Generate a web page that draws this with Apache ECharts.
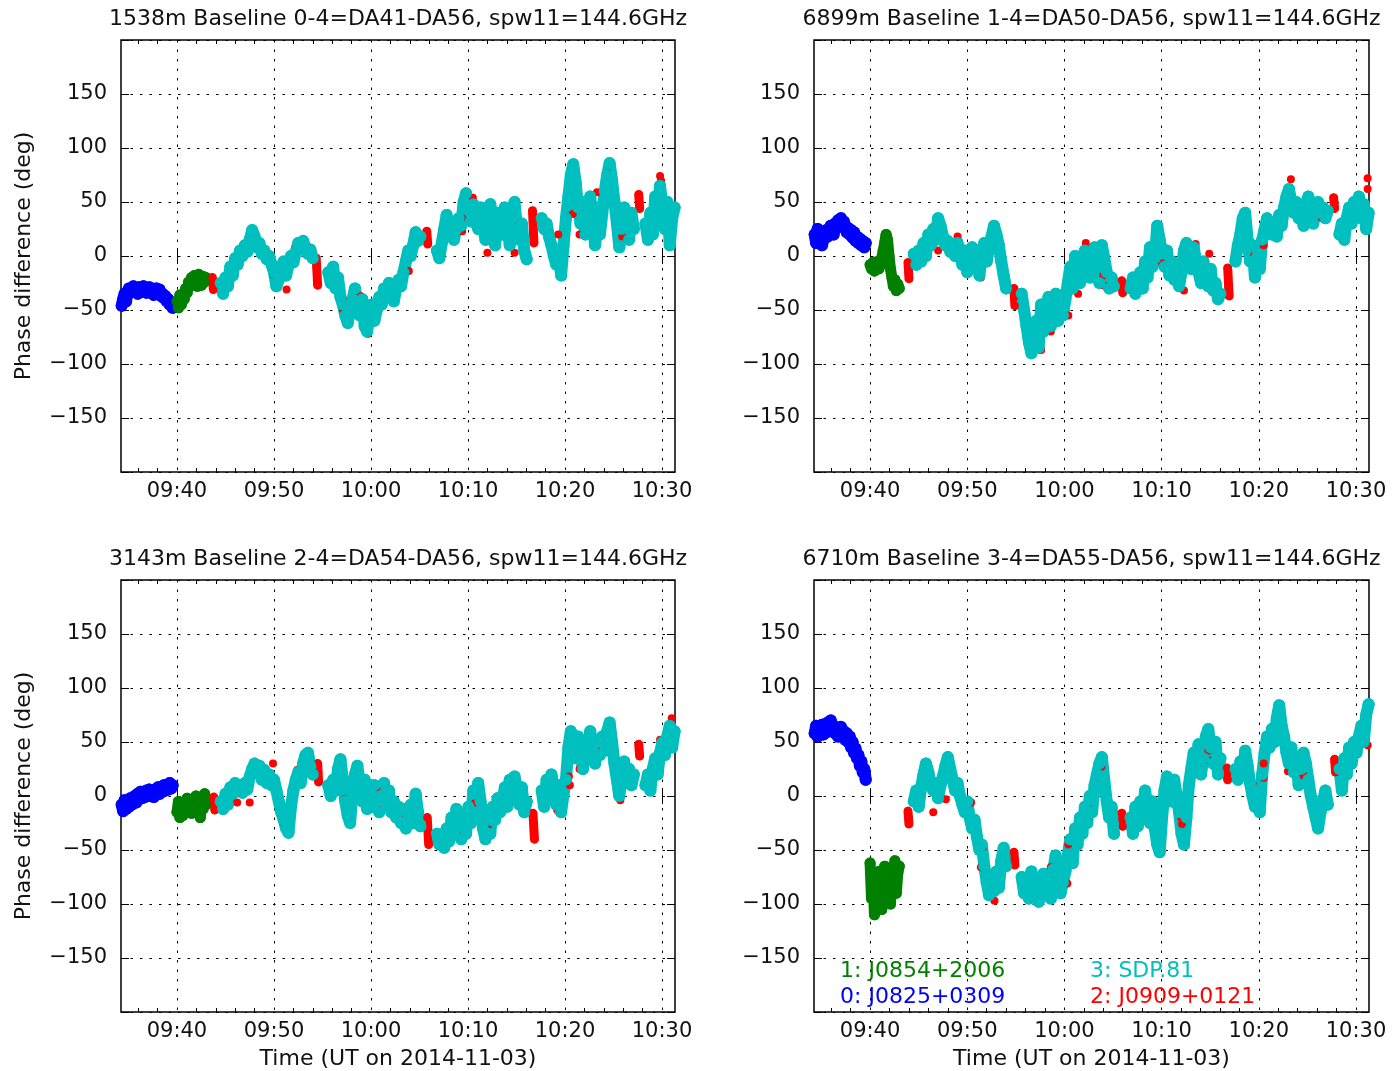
<!DOCTYPE html>
<html><head><meta charset="utf-8">
<script src="https://cdn.jsdelivr.net/npm/echarts@6/dist/echarts.min.js"></script>
<style>html,body{margin:0;padding:0;background:#fff}#c{width:1393px;height:1071px}</style>
</head><body><div id="c"></div>
<script>
// ---------- axis ticks (minutes after 09:00 UT) ----------
const X_MIN = 34.23, X_MAX = 91.34;
const X_MAJOR = [40, 50, 60, 70, 80, 90];
const X_MINOR = [36, 38, 42, 44, 46, 48, 52, 54, 56, 58, 62, 64, 66, 68, 72, 74, 76, 78, 82, 84, 86, 88];
const Y_MIN = -200, Y_MAX = 200, Y_STEP = 50;

// ---------- sampling of the scans ----------
const BLUE_START = 34.3, GREEN_START = 40.0, CAL_STEP = 0.15;
const CYAN_STARTS = [44.5, 55.6, 66.8, 77.6, 88.3];
const CYAN_STEP = 0.25;

// ---------- titles / legend ----------
const TITLES = [
  '1538m Baseline 0-4=DA41-DA56, spw11=144.6GHz',
  '6899m Baseline 1-4=DA50-DA56, spw11=144.6GHz',
  '3143m Baseline 2-4=DA54-DA56, spw11=144.6GHz',
  '6710m Baseline 3-4=DA55-DA56, spw11=144.6GHz'
];
const LEGEND = ['1: J0854+2006', '0: J0825+0309', '3: SDP.81', '2: J0909+0121'];

// ---------- panel 1 ----------
const p1Blue = [-46,-40,-35,-42,-33,-30,-34,-31,-28,-32,-30,-35,-29,-31,-33,-28,-30,-34,-31,-29,-33,-30,-36,-32,-30,-34,-31,-37,-35,-39,-37,-42,-40,-45,-43,-48];
const p1Green = [-42,-48,-36,-45,-38,-40,-30,-34,-24,-28,-20,-26,-18,-24,-28,-17,-22,-27,-19,-24,-20];
const p1RedScans = [
  [[43.65,-20],[43.7,-25],[43.75,-31]],
  [[54.35,-2],[54.4,-10],[54.45,-18],[54.5,-27]],
  [[65.75,23],[65.8,16],[65.85,11]],
  [[76.65,42],[76.7,32],[76.75,22],[76.8,12]],
  [[87.6,57],[87.65,50],[87.7,44]]
];
const p1RedDots = [[47.3,3],[49.9,-17],[51.3,-31],[52.2,6],[57.1,-40],[57.1,-50],[58.4,-30],[58.9,-37],[59.7,-72],[61.2,-39],[63.5,-5],[63.9,-14],
  [69.4,35],[69.4,23],[70.5,54],[72.0,14],[72.0,3],[74.8,30],[74.8,3],[79.3,20],[80.8,39],[81.5,20],[83.3,59],[84.4,77],[85.9,18],[89.8,74],[89.9,70]];
const p1Cyan = [
  [-25,-35,-20,-28,-10,-18,-2,-8,5,0,10,4,15,24,18,8,12,2,5,-3,0,-8,-15,-28,-22,-10,-5,-18,-8,0,-6,4,12,6,14,8,2,6,-2],
  [-15,-25,-10,-30,-20,-38,-45,-55,-62,-48,-40,-30,-45,-55,-40,-65,-70,-55,-45,-60,-50,-38,-45,-30,-38,-25,-35,-42,-30,-22,-28,-15,-5,5,0,10,22,14,18],
  [5,-2,12,25,38,20,30,15,25,35,28,50,58,45,32,48,38,25,45,30,15,35,48,28,10,40,30,20,45,30,10,35,50,25,15,30,5,-3],
  [35,25,30,18,10,0,-8,5,-18,10,35,55,75,85,68,45,30,50,20,40,55,35,10,30,20,40,60,75,86,70,50,30,8,25,45,30,15,40,25],
  [30,15,40,20,55,35,65,45,25,50,10,35,45]
];

// ---------- panel 2 ----------
const p2Blue = [20,12,25,18,22,10,15,20,24,18,22,28,25,20,30,26,33,28,35,30,32,27,22,26,20,24,17,22,14,18,12,16,10,14,8,12];
const p2Green = [-8,-12,-6,-14,-10,-5,-12,-8,-2,5,12,20,15,0,-12,-20,-28,-22,-32,-26,-30];
const p2RedScans = [
  [[43.9,-6],[43.95,-13],[44.0,-21]],
  [[54.8,-30],[54.85,-38],[54.9,-46]],
  [[65.9,-23],[65.95,-29],[66.0,-34]],
  [[76.8,-11],[76.85,-20],[76.9,-29],[76.95,-37]],
  [[87.7,54],[87.75,49],[87.8,44]]
];
const p2RedDots = [[47.0,5],[49.0,18],[49.1,14],[51.4,-20],[57.6,-87],[58.6,-70],[60.4,-55],[61.4,-35],[62.2,12],[64.0,-18],[64.0,-27],
  [69.9,-5],[72.3,-32],[73.5,11],[74.9,2],[74.9,-11],[79.5,0],[80.5,10],[83.3,71],[84.6,29],[86.5,35],[90.2,56],[91.2,72],[91.2,62]];
const p2Cyan = [
  [2,-8,5,-5,12,0,20,10,25,15,35,28,18,10,14,4,10,0,12,2,-8,5,-15,-5,8,-10,5,-18,2,12,-5,8,18,28,20,10,-5,-18,-30],
  [-35,-50,-65,-80,-90,-75,-60,-85,-45,-70,-55,-38,-65,-50,-35,-60,-45,-55,-40,-25,-10,-30,0,-15,-25,-8,5,-12,-20,-5,8,-10,-25,10,-2,-15,-30,-20,-28],
  [-30,-20,-35,-25,-15,-30,-5,-20,8,-10,-2,28,15,2,-10,5,-18,-5,-22,-12,-28,-15,5,12,0,-12,8,-5,-15,-25,-5,-18,-28,-12,-32,-25,-40,-35],
  [-5,10,20,35,40,15,-5,10,-20,0,-12,15,25,35,28,20,30,18,38,28,45,55,62,50,40,50,35,45,28,48,55,42,30,45,50,40,45,35,42],
  [20,30,15,35,45,30,50,40,55,35,48,25,40]
];

// ---------- panel 3 ----------
const p3Blue = [-8,-14,-4,-12,-6,-10,-2,-8,-5,0,-6,2,-3,4,-2,3,-1,5,0,6,2,4,-1,6,3,8,2,7,4,10,5,9,6,12,7,10];
const p3Green = [-15,-5,-20,-10,-18,-8,-14,-2,-12,-6,-16,-4,-10,0,-14,-8,-20,-5,-12,2,-8];
const p3RedScans = [
  [[43.8,-1],[43.85,-7],[43.9,-13]],
  [[54.5,30],[54.55,22],[54.6,13]],
  [[65.8,-20],[65.85,-29],[65.9,-37],[65.95,-45]],
  [[76.7,-16],[76.75,-24],[76.8,-32],[76.85,-40]],
  [[87.6,48],[87.65,42],[87.7,37]]
];
const p3RedDots = [[46.2,-6],[47.5,-6],[49.9,30],[49.9,15],[51.1,-27],[52.4,24],[57.3,-3],[58.6,26],[60.6,8],[61.2,-10],[63.3,-22],
  [69.5,-34],[70.7,-7],[72.1,-31],[73.3,-2],[74.6,18],[79.2,-13],[80.4,18],[80.5,10],[81.5,25],[83.3,43],[85.7,-4],[89.8,52],[91.0,72]];
const p3Cyan = [
  [-5,-12,2,-8,8,2,12,5,10,3,12,6,18,25,30,22,28,15,24,12,20,10,15,5,-5,-15,-22,-30,-34,-10,5,15,22,12,30,38,40,28,20],
  [10,0,15,5,25,34,15,-5,-18,-25,5,20,28,10,-5,15,-12,5,-10,10,-5,-15,0,12,-8,5,-15,-5,-20,-10,-25,-12,-30,-20,-8,-25,2,-15,-28],
  [-35,-45,-38,-48,-30,-42,-20,-35,-12,-28,-40,-22,-35,-10,-25,5,-15,12,-5,-30,-40,-20,-35,-10,-22,-2,-15,-5,8,-10,15,2,18,5,-8,8,-15,-5],
  [5,-10,15,0,20,8,-8,10,-15,2,15,45,60,50,35,55,40,25,48,35,60,45,30,50,38,55,42,60,68,50,30,15,0,20,32,12,25,10,20],
  [10,20,5,25,35,20,40,50,38,55,65,45,60]
];

// ---------- panel 4 ----------
const p4Blue = [58,65,55,62,60,66,57,63,59,68,62,70,60,65,58,62,55,60,64,56,60,52,58,50,55,45,50,40,44,35,38,28,32,22,25,15];
const p4Green = [-62,-95,-75,-110,-85,-100,-70,-90,-105,-80,-65,-95,-75,-88,-100,-70,-82,-60,-90,-72,-65];
const p4RedScans = [
  [[43.9,-14],[43.95,-20],[44.0,-26]],
  [[54.8,-52],[54.85,-58],[54.9,-64]],
  [[65.9,-16],[65.95,-22],[66.0,-28]],
  [[76.7,26],[76.75,20],[76.8,15]],
  [[87.8,34],[87.85,28],[87.9,22]]
];
const p4RedDots = [[46.5,-15],[47.8,-3],[49.0,12],[50.4,-6],[51.6,-48],[51.4,-66],[52.8,-97],[58.6,-66],[60.3,-81],[60.4,-45],[62.4,-11],[62.5,-24],
  [63.8,27],[63.7,15],[72.0,-20],[72.1,-26],[73.3,42],[74.8,42],[74.8,33],[79.4,10],[80.5,30],[80.5,17],[83.0,23],[84.6,19],[89.8,50],[91.2,47]];
const p4Cyan = [
  [-5,5,-10,8,20,30,22,10,5,12,-2,10,18,28,36,25,15,5,12,0,-8,-15,-5,-20,-30,-22,-38,-50,-45,-65,-80,-92,-75,-88,-70,-85,-60,-48,-65],
  [-75,-90,-80,-95,-70,-88,-78,-98,-85,-72,-92,-80,-95,-68,-55,-75,-90,-80,-70,-55,-40,-62,-30,-45,-20,-35,-10,-25,0,-15,10,20,30,36,15,-5,-20,-10,-35],
  [-20,-35,-10,-28,-5,-18,5,-12,-25,-5,-30,-45,-52,-20,5,18,10,-5,15,0,-15,-35,-45,-20,10,25,40,30,48,20,35,55,62,45,30,50,20,35],
  [25,15,32,20,42,28,12,0,-10,5,-15,20,40,55,45,62,50,72,84,65,55,40,30,45,22,35,10,25,40,30,15,0,-10,-20,-30,-15,-5,5,-8],
  [25,5,35,20,45,30,50,40,55,65,50,75,85]
];

// ---------- build ----------
const GAP = ['-', '-'];
function sampled(start, step, vals) { return vals.map((v, i) => [+(start + i * step).toFixed(3), v]); }
function joinRuns(runs) { let out = []; runs.forEach((r, k) => { if (k) out.push(GAP); out = out.concat(r); }); return out; }
function cyanRuns(segs) { return segs.map((s, k) => sampled(CYAN_STARTS[k], CYAN_STEP, s)); }

const PANEL_DATA = [
  {blue: p1Blue, green: p1Green, redScans: p1RedScans, redDots: p1RedDots, cyan: p1Cyan},
  {blue: p2Blue, green: p2Green, redScans: p2RedScans, redDots: p2RedDots, cyan: p2Cyan},
  {blue: p3Blue, green: p3Green, redScans: p3RedScans, redDots: p3RedDots, cyan: p3Cyan},
  {blue: p4Blue, green: p4Green, redScans: p4RedScans, redDots: p4RedDots, cyan: p4Cyan}
];
const BOXES = [[121, 40, 554, 432], [814, 40, 555, 432], [121, 580, 554, 433], [814, 580, 555, 433]];
const COLORS = {blue: '#0000ff', green: '#008000', red: '#ff0000', cyan: '#00bfbf'};
const WIDTHS = {blue: 12, green: 11, red: 9, cyan: 12};
const FONT = 'DejaVu Sans';
const TXT = '#111';

function fmtTime(v) {
  const h = 9 + Math.floor(v / 60), m = Math.round(v - 60 * Math.floor(v / 60));
  return (h < 10 ? '0' : '') + h + ':' + (m < 10 ? '0' : '') + m;
}
function fmtY(v) {
  if (Math.abs(v) >= 200) return '';
  return v < 0 ? '\u2212' + (-v) : String(v);
}
const dotted = {color: '#000', width: 1, type: [2.5, 7]};

const option = {animation: false, backgroundColor: '#fff', grid: [], xAxis: [], yAxis: [], series: [], graphic: []};

PANEL_DATA.forEach((p, i) => {
  const b = BOXES[i];
  option.grid.push({left: b[0], top: b[1], width: b[2], height: b[3], show: true, borderColor: '#000', borderWidth: 1.5, backgroundColor: 'transparent'});
  const base = {gridIndex: i, type: 'value', min: X_MIN, max: X_MAX, axisLine: {show: false}};
  option.xAxis.push(Object.assign({}, base, {
    position: 'bottom',
    axisTick: {show: true, inside: true, length: 8, lineStyle: {color: '#000'}, customValues: X_MAJOR},
    axisLabel: {show: true, customValues: X_MAJOR, formatter: fmtTime, fontFamily: FONT, fontSize: 21, color: TXT, margin: 9},
    splitLine: {show: true, lineStyle: dotted},
    name: i >= 2 ? 'Time (UT on 2014-11-03)' : '', nameLocation: 'middle', nameGap: 36,
    nameTextStyle: {fontFamily: FONT, fontSize: 22, color: TXT}
  }));
  option.xAxis.push(Object.assign({}, base, {
    position: 'top', axisLabel: {show: false}, splitLine: {show: false},
    axisTick: {show: true, inside: true, length: 8, lineStyle: {color: '#000'}, customValues: X_MAJOR}
  }));
  option.xAxis.push(Object.assign({}, base, {
    position: 'bottom', axisLabel: {show: false}, splitLine: {show: false},
    axisTick: {show: true, inside: true, length: 4, lineStyle: {color: '#000'}, customValues: X_MINOR}
  }));
  option.xAxis.push(Object.assign({}, base, {
    position: 'top', axisLabel: {show: false}, splitLine: {show: false},
    axisTick: {show: true, inside: true, length: 4, lineStyle: {color: '#000'}, customValues: X_MINOR}
  }));
  const ybase = {gridIndex: i, type: 'value', min: Y_MIN, max: Y_MAX, interval: Y_STEP, axisLine: {show: false}};
  option.yAxis.push(Object.assign({}, ybase, {
    position: 'left',
    axisTick: {show: true, inside: true, length: 8, lineStyle: {color: '#000'}},
    axisLabel: {formatter: fmtY, fontFamily: FONT, fontSize: 21, color: TXT, margin: 14},
    splitLine: {show: true, lineStyle: dotted},
    name: (i % 2 === 0) ? 'Phase difference (deg)' : '', nameLocation: 'middle', nameGap: 86, nameRotate: 90,
    nameTextStyle: {fontFamily: FONT, fontSize: 22, color: TXT}
  }));
  option.yAxis.push(Object.assign({}, ybase, {
    position: 'right', axisLabel: {show: false}, splitLine: {show: false},
    axisTick: {show: true, inside: true, length: 8, lineStyle: {color: '#000'}}
  }));
  // dense sample runs: consecutive samples of one scan drawn as touching markers
  const sets = [
    ['blue', sampled(BLUE_START, CAL_STEP, p.blue)],
    ['green', sampled(GREEN_START, CAL_STEP, p.green)],
    ['red', joinRuns(p.redScans.concat(p.redDots.map(d => [d])))],
    ['cyan', joinRuns(cyanRuns(p.cyan))]
  ];
  sets.forEach(([name, data]) => {
    const w = WIDTHS[name];
    option.series.push({
      type: 'line', xAxisIndex: 4 * i, yAxisIndex: 2 * i, data: data,
      showSymbol: true, symbol: 'circle', symbolSize: name === 'red' ? 8 : w, connectNulls: false,
      itemStyle: {color: COLORS[name], borderWidth: 0},
      lineStyle: {color: COLORS[name], width: w, cap: 'round', join: 'round'},
      emphasis: {disabled: true}, silent: true, z: 2
    });
  });
  option.graphic.push({
    type: 'text', x: b[0] + b[2] / 2, y: b[1] - 21,
    style: {text: TITLES[i], fill: TXT, font: '22px "' + FONT + '"', textAlign: 'center', textVerticalAlign: 'middle'}
  });
});

// legend texts in the last panel
const LEG_POS = [[840, 971, COLORS.green], [840, 997, COLORS.blue], [1090, 971, COLORS.cyan], [1090, 997, COLORS.red]];
LEGEND.forEach((t, k) => {
  option.graphic.push({
    type: 'text', x: LEG_POS[k][0], y: LEG_POS[k][1], z: 100,
    style: {text: t, fill: LEG_POS[k][2], font: '22px "' + FONT + '"', textAlign: 'left', textVerticalAlign: 'middle'}
  });
});

const chart = echarts.init(document.getElementById('c'));
chart.setOption(option);
</script></body></html>
